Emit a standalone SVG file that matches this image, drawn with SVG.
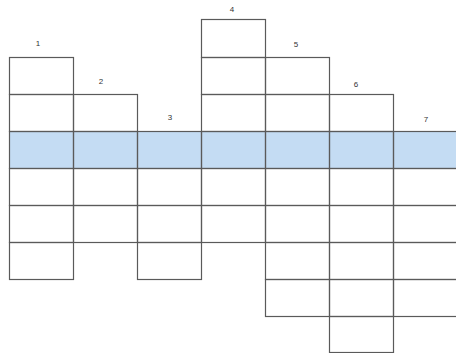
<svg xmlns="http://www.w3.org/2000/svg" width="456" height="353" viewBox="0 0 456 353">
<style>
.cell{fill:none;stroke:#5a5a5a;stroke-width:1.2}
.hl{fill:#c4dcf3}
.num{font-family:"Liberation Sans",Arial,sans-serif;font-size:8px;fill:#333;text-anchor:middle}
</style>
<rect class="hl" x="9" y="131" width="447" height="37"/>
<g id="col1">
<text class="num" x="38" y="46">1</text>
<rect class="cell" x="9.5" y="57.5" width="64" height="37"/>
<rect class="cell" x="9.5" y="94.5" width="64" height="37"/>
<rect class="cell" x="9.5" y="131.5" width="64" height="37"/>
<rect class="cell" x="9.5" y="168.5" width="64" height="37"/>
<rect class="cell" x="9.5" y="205.5" width="64" height="37"/>
<rect class="cell" x="9.5" y="242.5" width="64" height="37"/>
</g>
<g id="col2">
<text class="num" x="101" y="84">2</text>
<rect class="cell" x="73.5" y="94.5" width="64" height="37"/>
<rect class="cell" x="73.5" y="131.5" width="64" height="37"/>
<rect class="cell" x="73.5" y="168.5" width="64" height="37"/>
<rect class="cell" x="73.5" y="205.5" width="64" height="37"/>
</g>
<g id="col3">
<text class="num" x="170" y="120">3</text>
<rect class="cell" x="137.5" y="131.5" width="64" height="37"/>
<rect class="cell" x="137.5" y="168.5" width="64" height="37"/>
<rect class="cell" x="137.5" y="205.5" width="64" height="37"/>
<rect class="cell" x="137.5" y="242.5" width="64" height="37"/>
</g>
<g id="col4">
<text class="num" x="232" y="12">4</text>
<rect class="cell" x="201.5" y="19.5" width="64" height="38"/>
<rect class="cell" x="201.5" y="57.5" width="64" height="37"/>
<rect class="cell" x="201.5" y="94.5" width="64" height="37"/>
<rect class="cell" x="201.5" y="131.5" width="64" height="37"/>
<rect class="cell" x="201.5" y="168.5" width="64" height="37"/>
<rect class="cell" x="201.5" y="205.5" width="64" height="37"/>
</g>
<g id="col5">
<text class="num" x="296" y="47">5</text>
<rect class="cell" x="265.5" y="57.5" width="64" height="37"/>
<rect class="cell" x="265.5" y="94.5" width="64" height="37"/>
<rect class="cell" x="265.5" y="131.5" width="64" height="37"/>
<rect class="cell" x="265.5" y="168.5" width="64" height="37"/>
<rect class="cell" x="265.5" y="205.5" width="64" height="37"/>
<rect class="cell" x="265.5" y="242.5" width="64" height="37"/>
<rect class="cell" x="265.5" y="279.5" width="64" height="37"/>
</g>
<g id="col6">
<text class="num" x="356" y="87">6</text>
<rect class="cell" x="329.5" y="94.5" width="64" height="37"/>
<rect class="cell" x="329.5" y="131.5" width="64" height="37"/>
<rect class="cell" x="329.5" y="168.5" width="64" height="37"/>
<rect class="cell" x="329.5" y="205.5" width="64" height="37"/>
<rect class="cell" x="329.5" y="242.5" width="64" height="37"/>
<rect class="cell" x="329.5" y="279.5" width="64" height="37"/>
<rect class="cell" x="329.5" y="316.5" width="64" height="36"/>
</g>
<g id="col7">
<text class="num" x="426" y="122">7</text>
<rect class="cell" x="393.5" y="131.5" width="64" height="37"/>
<rect class="cell" x="393.5" y="168.5" width="64" height="37"/>
<rect class="cell" x="393.5" y="205.5" width="64" height="37"/>
<rect class="cell" x="393.5" y="242.5" width="64" height="37"/>
<rect class="cell" x="393.5" y="279.5" width="64" height="37"/>
</g>
<g id="connectors"></g>
</svg>
